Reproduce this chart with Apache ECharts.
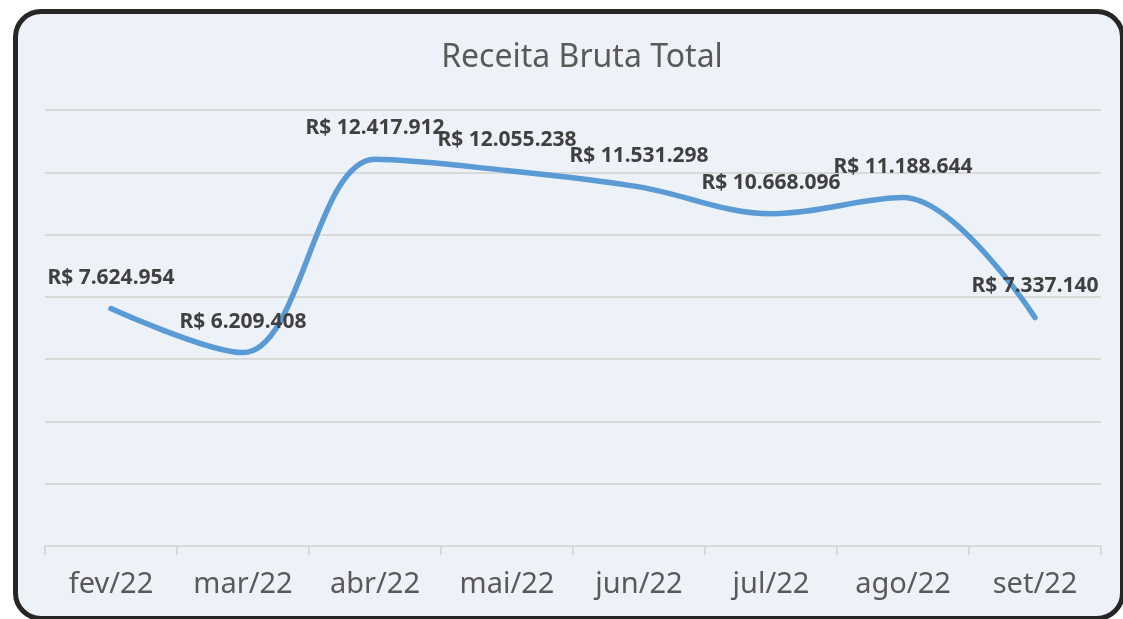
<!DOCTYPE html>
<html>
<head>
<meta charset="utf-8">
<script src="https://cdn.jsdelivr.net/npm/echarts@6/dist/echarts.min.js"></script>
<style>
    html, body { margin: 0; padding: 0; background: #ffffff; }
    .frame {
        position: absolute; left: 13px; top: 9px; width: 1112px; height: 612px;
        box-sizing: border-box; border: 5px solid #262626; border-radius: 28px;
        background: #edf2f9;
    }
    .chart { position: absolute; left: 0; top: 0; width: 1123px; height: 619px; }
</style>
</head>
<body>
<div class="frame"></div>
<div class="chart"></div>
<script>
// 数据
var meses = ['fev/22', 'mar/22', 'abr/22', 'mai/22', 'jun/22', 'jul/22', 'ago/22', 'set/22'];
var receita = [7624954, 6209408, 12417912, 12055238, 11531298, 10668096, 11188644, 7337140];

function brl(v) {
    return 'R$ ' + String(v).replace(/\B(?=(\d{3})+(?!\d))/g, '.');
}

(function(){
    var myChart = echarts.init(document.querySelector('.chart'));
    var option = {
        backgroundColor: 'transparent',
        title: {
            text: 'Receita Bruta Total',
            left: 577,
            top: 37,
            textAlign: 'center',
            textStyle: {
                color: '#595959',
                fontFamily: 'Noto Sans',
                fontWeight: 'normal',
                fontSize: 32
            }
        },
        grid: {
            left: 45,
            right: 22,
            top: 110,
            bottom: 73
        },
        xAxis: {
            type: 'category',
            data: meses,
            boundaryGap: true,
            axisLine: { lineStyle: { color: '#d9d9d9', width: 2 } },
            axisTick: { show: true, length: 9, lineStyle: { color: '#d9d9d9', width: 2 } },
            axisLabel: {
                color: '#595959',
                fontFamily: 'Noto Sans',
                fontSize: 29,
                margin: 24
            }
        },
        yAxis: {
            type: 'value',
            min: 0,
            max: 14000000,
            interval: 2000000,
            axisLabel: { show: false },
            axisLine: { show: false },
            axisTick: { show: false },
            splitLine: { lineStyle: { color: '#d9d9d9', width: 2 } }
        },
        series: [{
            name: 'Receita Bruta Total',
            type: 'line',
            data: receita,
            smooth: 0.35,
            showSymbol: true,
            symbol: 'circle',
            symbolSize: 1,
            itemStyle: { color: 'rgba(0,0,0,0)' },
            lineStyle: { color: '#5b9bd5', width: 5.5, cap: 'round' },
            label: {
                show: true,
                position: 'top',
                distance: 20,
                offset: [3, 0],
                color: '#404040',
                fontFamily: 'Noto Sans',
                fontWeight: 'bold',
                fontSize: 21,
                formatter: function (p) { return brl(p.value); }
            },
            labelLayout: { hideOverlap: false }
        }]
    };
    myChart.setOption(option);
})();
</script>
</body>
</html>
